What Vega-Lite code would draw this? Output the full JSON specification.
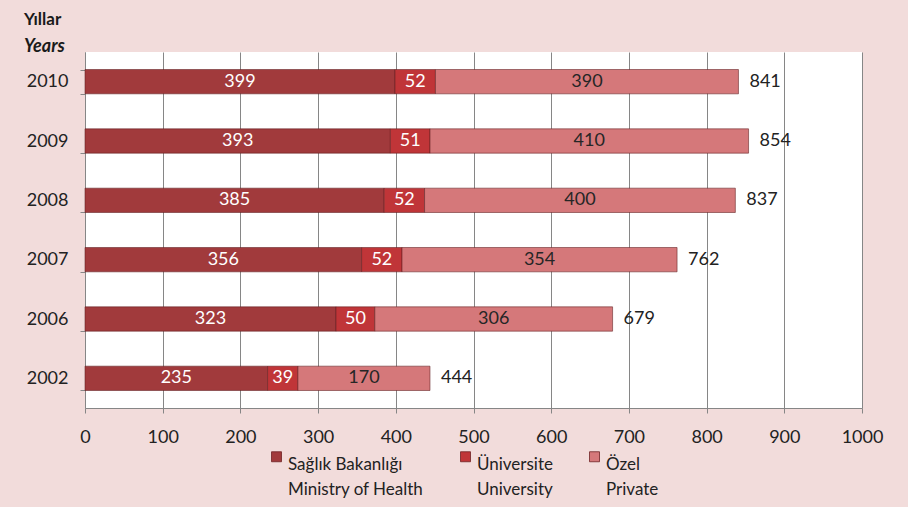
{
  "$schema": "https://vega.github.io/schema/vega-lite/v6.json",
  "width": 777,
  "height": 356,
  "autosize": {"type": "none"},
  "padding": {"left": 85, "top": 52, "right": 46, "bottom": 99},
  "background": "#f2dcdb",
  "config": {
    "font": "Lato",
    "view": {"fill": "white", "stroke": null},
    "style": {"guide-label": {"lineHeight": 25}},
    "axis": {"labelFont": "Lato", "labelFontSize": 18, "labelColor": "#222222", "domainColor": "#868686", "tickColor": "#868686", "gridColor": "#868686", "tickSize": 5}
  },
  "title": {
    "text": "Yıllar",
    "subtitle": "Years",
    "anchor": "start",
    "frame": "group",
    "dx": -61,
    "offset": -14,
    "font": "Lato",
    "fontSize": 17,
    "fontWeight": "bold",
    "color": "#1a1a1a",
    "subtitleFont": "Lato",
    "subtitleFontSize": 18,
    "subtitleFontWeight": "bold",
    "subtitleFontStyle": "italic",
    "subtitleColor": "#1a1a1a",
    "subtitlePadding": 9
  },
  "data": {
    "values": [
      {"year": "2010", "type": "Sağlık Bakanlığı", "k": 1, "value": 399},
      {"year": "2010", "type": "Üniversite", "k": 2, "value": 52},
      {"year": "2010", "type": "Özel", "k": 3, "value": 390},
      {"year": "2009", "type": "Sağlık Bakanlığı", "k": 1, "value": 393},
      {"year": "2009", "type": "Üniversite", "k": 2, "value": 51},
      {"year": "2009", "type": "Özel", "k": 3, "value": 410},
      {"year": "2008", "type": "Sağlık Bakanlığı", "k": 1, "value": 385},
      {"year": "2008", "type": "Üniversite", "k": 2, "value": 52},
      {"year": "2008", "type": "Özel", "k": 3, "value": 400},
      {"year": "2007", "type": "Sağlık Bakanlığı", "k": 1, "value": 356},
      {"year": "2007", "type": "Üniversite", "k": 2, "value": 52},
      {"year": "2007", "type": "Özel", "k": 3, "value": 354},
      {"year": "2006", "type": "Sağlık Bakanlığı", "k": 1, "value": 323},
      {"year": "2006", "type": "Üniversite", "k": 2, "value": 50},
      {"year": "2006", "type": "Özel", "k": 3, "value": 306},
      {"year": "2002", "type": "Sağlık Bakanlığı", "k": 1, "value": 235},
      {"year": "2002", "type": "Üniversite", "k": 2, "value": 39},
      {"year": "2002", "type": "Özel", "k": 3, "value": 170}
    ]
  },
  "encoding": {
    "y": {
      "field": "year", "type": "nominal", "sort": "descending",
      "scale": {"paddingInner": 0.59, "paddingOuter": 0.295},
      "axis": {"title": null, "tickBand": "extent", "labelPadding": 12, "grid": false}
    }
  },
  "layer": [
    {
      "mark": {"type": "bar", "stroke": "#5e1d1f", "strokeOpacity": 0.55, "strokeWidth": 1},
      "encoding": {
        "x": {
          "field": "value", "type": "quantitative", "stack": "zero",
          "scale": {"domain": [0, 1000]},
          "axis": {"title": null, "format": "d", "values": [0,100,200,300,400,500,600,700,800,900,1000], "labelPadding": 15, "grid": true, "labelFlush": false}
        },
        "color": {
          "field": "type", "type": "nominal",
          "scale": {"domain": ["Sağlık Bakanlığı", "Üniversite", "Özel"], "range": ["#a13a3c", "#c03538", "#d5787a"]},
          "legend": {
            "title": null,
            "orient": "none",
            "legendX": 183,
            "legendY": 396,
            "direction": "horizontal",
            "symbolType": "square",
            "symbolSize": 100,
            "symbolStrokeColor": "#6e2224",
            "symbolStrokeWidth": 0.8,
            "symbolOffset": 0,
            "labelFont": "Lato",
            "labelFontSize": 17,
            "labelColor": "#222222",
            "labelOffset": 3,
            "labelBaseline": "top",
            "columnPadding": 33,
            "labelExpr": "datum.label == 'Sağlık Bakanlığı' ? ['Sağlık Bakanlığı', 'Ministry of Health'] : datum.label == 'Üniversite' ? ['Üniversite', 'University'] : ['Özel', 'Private']"
          }
        },
        "order": {"field": "k", "type": "quantitative"}
      }
    },
    {
      "mark": {"type": "text", "fontSize": 18, "font": "Lato"},
      "encoding": {
        "x": {"field": "value", "type": "quantitative", "stack": "zero", "bandPosition": 0.5},
        "detail": {"field": "type"},
        "order": {"field": "k", "type": "quantitative"},
        "text": {"field": "value", "type": "quantitative"},
        "color": {"condition": {"test": "datum.type == 'Özel'", "value": "#262626"}, "value": "white"}
      }
    },
    {
      "mark": {"type": "text", "fontSize": 18, "font": "Lato", "align": "left", "dx": 11, "color": "#222222"},
      "encoding": {
        "x": {"aggregate": "sum", "field": "value", "type": "quantitative"},
        "text": {"aggregate": "sum", "field": "value", "type": "quantitative"}
      }
    }
  ]
}
